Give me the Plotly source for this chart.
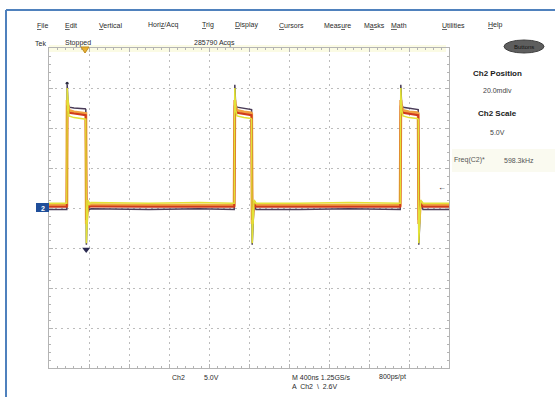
import plotly.graph_objects as go

# ---- data (time in ns, amplitude in V; 5 V/div, 400 ns/div) ----
time_ns = [0, 170, 178, 182, 190, 200, 250, 350, 362, 368, 374, 380, 390, 400, 420,
           1000, 1500, 1840, 1852, 1858, 1866, 1880, 1950, 2020, 2026, 2032, 2040, 2050, 2070,
           2500, 3000, 3500, 3512, 3518, 3526, 3540, 3600, 3680, 3692, 3698, 3706, 3716, 3740, 4000]

yellow_v = [0.6, 0.6, 0.6, 15.0, 12.4, 11.5, 11.3, 11.2, 11.2, 11.1, -4.4, -1.2, 1.0, 0.4, 0.7,
            0.6, 0.7, 0.6, 0.6, 15.0, 12.4, 11.5, 11.3, 11.2, 11.1, -4.4, -1.2, 1.0, 0.6,
            0.6, 0.7, 0.6, 0.6, 15.0, 12.4, 11.5, 11.3, 11.2, 11.1, -4.4, -1.2, 1.0, 0.6, 0.6]

orange_v = [0.35, 0.35, 0.35, 13.5, 12.6, 12.2, 12.0, 11.9, 11.9, 11.8, -2.0, -0.6, 0.8, 0.3, 0.4,
            0.35, 0.4, 0.35, 0.35, 13.5, 12.6, 12.2, 12.0, 11.9, 11.8, -2.0, -0.6, 0.8, 0.35,
            0.35, 0.4, 0.35, 0.35, 13.5, 12.6, 12.2, 12.0, 11.9, 11.8, -2.0, -0.6, 0.8, 0.35, 0.35]

red_v = [0.15, 0.15, 0.15, 12.8, 12.2, 11.9, 11.8, 11.7, 11.7, 11.6, -1.5, -0.4, 0.5, 0.1, 0.2,
         0.15, 0.2, 0.15, 0.15, 12.8, 12.2, 11.9, 11.8, 11.7, 11.6, -1.5, -0.4, 0.5, 0.15,
         0.15, 0.2, 0.15, 0.15, 12.8, 12.2, 11.9, 11.8, 11.7, 11.6, -1.5, -0.4, 0.5, 0.15, 0.15]

dark_v = [-0.2, -0.2, -0.2, 15.4, 13.0, 12.6, 12.5, 12.4, 12.4, 12.3, -4.6, -1.4, 0.6, -0.2, -0.1,
          -0.2, -0.1, -0.2, -0.2, 15.4, 13.0, 12.6, 12.5, 12.4, 12.3, -4.6, -1.4, 0.6, -0.2,
          -0.2, -0.1, -0.2, -0.2, 15.4, 13.0, 12.6, 12.5, 12.4, 12.3, -4.6, -1.4, 0.6, -0.2, -0.2]

min_marker_t = [372]
min_marker_v = [-5.2]
peak_marker_t = [181]
peak_marker_v = [15.6]

menu_items = ["<u>F</u>ile", "<u>E</u>dit", "<u>V</u>ertical", "Hori<u>z</u>/Acq", "<u>T</u>rig",
              "<u>D</u>isplay", "<u>C</u>ursors", "Meas<u>u</u>re", "M<u>a</u>sks", "<u>M</u>ath",
              "<u>U</u>tilities", "<u>H</u>elp"]
menu_x = [35, 63, 97, 146, 200, 233, 277, 322, 362, 389, 440, 486]

# ---- layout geometry (pixels) ----
W, H = 555, 397
L, R, T, B = 49, 449, 48, 368


def px(x):
    return (x - L) / (R - L)


def py(y):
    return (B - y) / (B - T)


FONT = "Liberation Sans"
fig = go.Figure()

for v, col, w in [(dark_v, "#4a3c58", 1.5), (orange_v, "#f0a040", 3),
                  (red_v, "#d03a1c", 2), (yellow_v, "#e2e236", 1.5)]:
    fig.add_trace(go.Scatter(x=time_ns, y=v, mode="lines",
                             line=dict(color=col, width=w), hoverinfo="skip"))

fig.add_trace(go.Scatter(x=min_marker_t, y=min_marker_v, mode="markers",
                         marker=dict(symbol="triangle-down", size=7, color="#2a2a50"),
                         hoverinfo="skip"))
fig.add_trace(go.Scatter(x=peak_marker_t, y=peak_marker_v, mode="markers",
                         marker=dict(symbol="circle", size=3, color="#2a2a40"),
                         hoverinfo="skip"))

axis_common = dict(showgrid=True, gridcolor="#bcbcbc", gridwidth=1, griddash="2px,4px",
                   zeroline=False, showline=True, linecolor="#b4b4b4", linewidth=1,
                   mirror="allticks", ticks="inside", ticklen=4, tickcolor="#b4b4b4",
                   showticklabels=False, fixedrange=True)

fig.update_layout(
    width=W, height=H,
    margin=dict(l=L, r=W - R, t=T, b=H - B, pad=0),
    paper_bgcolor="white", plot_bgcolor="white",
    showlegend=False,
    xaxis=dict(range=[0, 4000], dtick=400, tick0=0,
               minor=dict(dtick=80, ticks="inside", ticklen=2, tickcolor="#b4b4b4"),
               **axis_common),
    yaxis=dict(range=[-20, 20], dtick=5, tick0=0,
               minor=dict(dtick=1, ticks="inside", ticklen=2, tickcolor="#b4b4b4"),
               **axis_common),
)

shapes = []
# blue frame
shapes.append(dict(type="line", xref="paper", yref="paper", x0=px(6), x1=px(6), y0=py(10), y1=py(400),
                   line=dict(color="#4f81bd", width=2)))
shapes.append(dict(type="line", xref="paper", yref="paper", x0=px(6), x1=px(560), y0=py(10), y1=py(10),
                   line=dict(color="#4f81bd", width=2)))
# top ruler strip
shapes.append(dict(type="rect", xref="paper", yref="paper", x0=px(49), x1=px(446), y0=py(52), y1=py(45),
                   fillcolor="#fbfbe4", line=dict(width=0), layer="below"))
# freq readout background
shapes.append(dict(type="rect", xref="paper", yref="paper", x0=px(452), x1=px(555), y0=py(172), y1=py(149),
                   fillcolor="#fafaf0", line=dict(width=0), layer="below"))
# buttons ellipse
shapes.append(dict(type="circle", xref="paper", yref="paper", x0=px(504), x1=px(544), y0=py(53), y1=py(40),
                   fillcolor="#5e5e5e", line=dict(color="#404040", width=1)))
# channel marker
shapes.append(dict(type="rect", xref="paper", yref="paper", x0=px(36), x1=px(49), y0=py(212), y1=py(203),
                   fillcolor="#1f4e9a", line=dict(width=0)))
# trigger position marker
shapes.append(dict(type="path", xref="paper", yref="paper",
                   path=f"M {px(81)} {py(47)} L {px(89)} {py(47)} L {px(85)} {py(53)} Z",
                   fillcolor="#e8b030", line=dict(color="#c08a20", width=1)))
fig.update_layout(shapes=shapes)

ann = []


def text(x, y, s, size=7, anchor="left", color="#2a2a2a", bold=False, bg=None):
    d = dict(xref="paper", yref="paper", x=px(x), y=py(y), text=(f"<b>{s}</b>" if bold else s),
             showarrow=False, xanchor=anchor, yanchor="middle",
             font=dict(family=FONT, size=size, color=color))
    if bg:
        d["bgcolor"] = bg
    ann.append(d)


for mx, mt in zip(menu_x, menu_items):
    text(mx, 25, mt)
text(33, 43, "Tek")
text(63, 43, "Stopped")
text(192, 43, "285790 Acqs")
text(524, 47, "Buttons", size=6, anchor="center", color="#111")

text(497, 73, "Ch2 Position", size=8, anchor="center", color="#1a1a1a", bold=True)
text(497, 90, "20.0mdiv", size=7, anchor="center", color="#444")
text(497, 113, "Ch2 Scale", size=8, anchor="center", color="#1a1a1a", bold=True)
text(497, 132, "5.0V", size=7, anchor="center", color="#444")
text(452, 160, "Freq(C2)*", size=7, color="#555")
text(502, 160, "598.3kHz", size=7, color="#555")

text(170, 377, "Ch2")
text(202, 377, "5.0V")
text(290, 377, "M 400ns 1.25GS/s")
text(377, 377, "800ps/pt")
text(290, 386, "A  Ch2  \\  2.6V")

text(43, 208, "2", size=7, anchor="center", color="white", bold=True)
text(442, 187, "←", size=8, anchor="center", color="#111")

fig.update_layout(annotations=ann)

fig.write_html("out.html", config={"displayModeBar": False},
               post_script="document.body.style.margin='0';document.body.style.overflow='hidden';")
